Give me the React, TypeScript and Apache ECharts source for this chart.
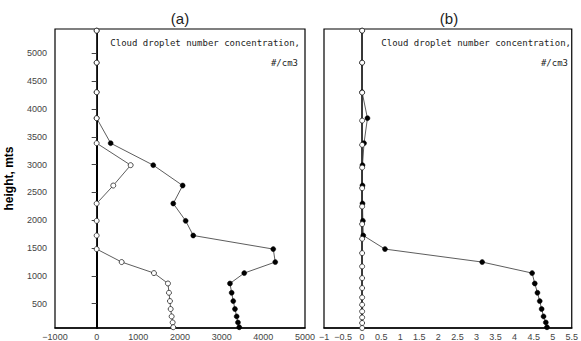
import React, { useEffect, useRef } from "react";
import * as echarts from "echarts";

// Heights (m) of the levels
const levelsA = [5407, 4832, 4301, 3834, 3385, 2990, 2624, 2301, 1990, 1726, 1482, 1249, 1051, 864, 697, 548, 405, 272, 164, 78];
const openA = [0, 0, 0, 0, 0, 816, 398, 0, 0, 0, 0, 600, 1375, 1711, 1735, 1759, 1776, 1800, 1824, 1838];
const filledA = [0, 0, 0, 0, 336, 1358, 2064, 1838, 2136, 2318, 4238, 4286, 3542, 3199, 3240, 3278, 3319, 3360, 3391, 3422];

const levelsOpenB = [5407, 4832, 4294, 3791, 3355, 2947, 2577, 2247, 1931, 1667, 1410, 1170, 961, 782, 613, 482, 362, 254, 154, 64];
const openB = [0, 0, 0, 0, 0, 0, 0, 0, 0, 0, 0, 0, 0, 0, 0, 0, 0, 0, 0, 0];
const levelsFilledB = [5407, 4832, 4301, 3834, 3385, 2990, 2624, 2301, 1990, 1726, 1482, 1249, 1051, 864, 697, 548, 405, 272, 164, 78];
const filledB = [0, 0, 0, 0.14, 0.05, 0.01, 0.01, 0.01, 0.02, 0.03, 0.6, 3.15, 4.46, 4.53, 4.6, 4.66, 4.71, 4.76, 4.82, 4.85];

const yTicks = [500, 1000, 1500, 2000, 2500, 3000, 3500, 4000, 4500, 5000];
const xTicksA = [-1000, 0, 1000, 2000, 3000, 4000, 5000];
const xTicksB = [-1, -0.5, 0, 0.5, 1, 1.5, 2, 2.5, 3, 3.5, 4, 4.5, 5, 5.5];

const panelTitles = ["(a)", "(b)"];
const annotation1 = "Cloud droplet number concentration,";
const annotation2 = "#/cm3";
const yName = "height, mts";

const FONT = "Liberation Sans";
const MONO = "DejaVu Sans Mono";

const pair = (xs: number[], ys: number[]) => xs.map((x, i) => [x, ys[i]]);

export default function App() {
  const ref = useRef<HTMLDivElement>(null);
  useEffect(() => {
    if (!ref.current) return;
    const chart = echarts.init(ref.current, null, { renderer: "svg" });
    const fmt = (v: number) => String(v).replace("-", "\u2212");
    const xAxisCommon = {
      type: "value",
      axisLine: { show: true, lineStyle: { color: "#000", width: 1.5 } },
      axisTick: { show: false },
      splitLine: { show: false },
      axisLabel: {
        color: "#444", fontSize: 9, fontFamily: FONT, margin: 4, formatter: fmt,
        interval: 0, showMinLabel: true, showMaxLabel: true, hideOverlap: false,
      },
    };
    const yAxisCommon = {
      type: "value",
      min: 64,
      max: 5437,
      splitLine: { show: false },
    };
    const lineStyle = { color: "#333", width: 0.8 };
    const textStyle = (x: number, y: number, text: string, size: number, family: string, align: string) => ({
      type: "text", x, y,
      style: { text, fontSize: size, fontFamily: family, fill: "#222", textAlign: align, textVerticalAlign: "middle" },
    });
    chart.setOption({
      animation: false,
      grid: [
        { left: 55, right: 276, top: 29, bottom: 13, show: true, borderColor: "#000", borderWidth: 1.2, backgroundColor: "transparent" },
        { left: 324, right: 7, top: 29, bottom: 13, show: true, borderColor: "#000", borderWidth: 1.2, backgroundColor: "transparent" },
      ],
      xAxis: [
        { ...xAxisCommon, gridIndex: 0, min: xTicksA[0], max: xTicksA[xTicksA.length - 1], interval: 1000 },
        { ...xAxisCommon, gridIndex: 1, min: xTicksB[0], max: xTicksB[xTicksB.length - 1], interval: 0.5 },
      ],
      yAxis: [
        {
          ...yAxisCommon,
          gridIndex: 0,
          name: yName,
          nameLocation: "middle",
          nameGap: 40,
          nameTextStyle: { fontSize: 12, fontWeight: "bold", fontFamily: FONT, color: "#000" },
          axisLine: { show: true, lineStyle: { color: "#000", width: 2 } },
          axisTick: { show: true, length: 5, lineStyle: { color: "#444" }, customValues: yTicks },
          axisLabel: {
            show: true, color: "#444", fontSize: 9, fontFamily: FONT, margin: 8, customValues: yTicks,
            formatter: (v: number) => String(v),
          },
        },
        {
          ...yAxisCommon,
          gridIndex: 1,
          axisLine: { show: true, lineStyle: { color: "#000", width: 1.5 } },
          axisTick: { show: false },
          axisLabel: { show: false },
        },
      ],
      graphic: [
        textStyle(180, 18, panelTitles[0], 15, FONT, "center"),
        textStyle(449, 18, panelTitles[1], 15, FONT, "center"),
        textStyle(300, 43, annotation1, 9, MONO, "right"),
        textStyle(298, 63, annotation2, 9, MONO, "right"),
        textStyle(571, 43, annotation1, 9, MONO, "right"),
        textStyle(568, 63, annotation2, 9, MONO, "right"),
      ],
      series: [
        {
          type: "line", xAxisIndex: 0, yAxisIndex: 0, data: pair(filledA, levelsA),
          symbol: "circle", symbolSize: 5, lineStyle, itemStyle: { color: "#000", borderColor: "#000", borderWidth: 0.5 },
        },
        {
          type: "line", xAxisIndex: 0, yAxisIndex: 0, data: pair(openA, levelsA),
          symbol: "circle", symbolSize: 5, lineStyle, itemStyle: { color: "#fff", borderColor: "#222", borderWidth: 0.8 },
        },
        {
          type: "line", xAxisIndex: 1, yAxisIndex: 1, data: pair(filledB, levelsFilledB),
          symbol: "circle", symbolSize: 5, lineStyle, itemStyle: { color: "#000", borderColor: "#000", borderWidth: 0.5 },
        },
        {
          type: "line", xAxisIndex: 1, yAxisIndex: 1, data: pair(openB, levelsOpenB),
          symbol: "circle", symbolSize: 5, lineStyle, itemStyle: { color: "#fff", borderColor: "#222", borderWidth: 0.8 },
        },
      ],
    });
    return () => chart.dispose();
  }, []);
  return <div ref={ref} style={{ width: 581, height: 341, position: "absolute", left: 0, top: 0 }} />;
}
